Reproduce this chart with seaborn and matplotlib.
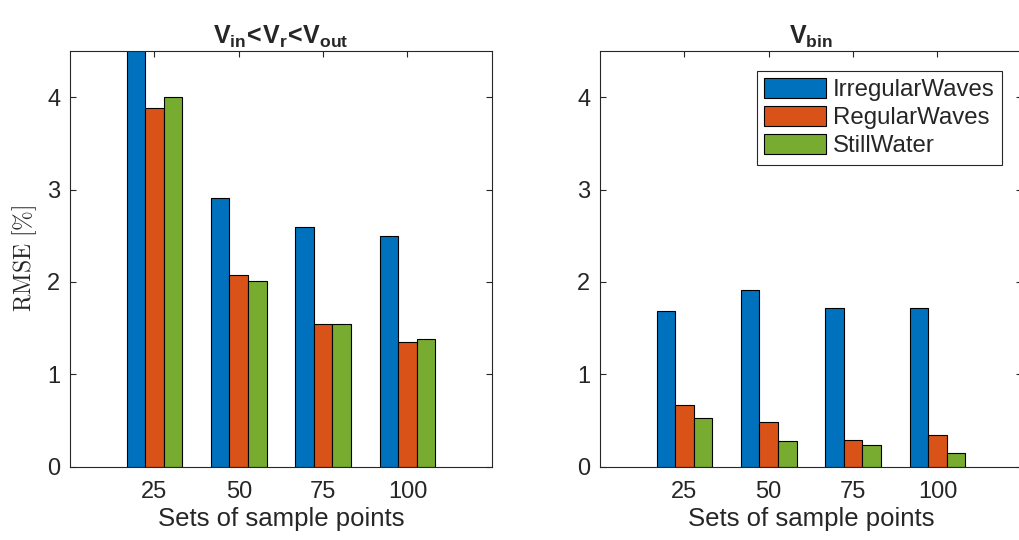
import seaborn as sns
import matplotlib.pyplot as plt
import pandas as pd

sns.set_style('ticks')
plt.rcParams['font.family'] = ['Liberation Sans', 'DejaVu Sans']
plt.rcParams['mathtext.fontset'] = 'custom'
plt.rcParams['mathtext.rm'] = 'Liberation Sans'
plt.rcParams['mathtext.it'] = 'Liberation Sans'
plt.rcParams['mathtext.bf'] = 'Liberation Sans:bold'

points = ['25', '50', '75', '100']
cases = ['IrregularWaves', 'RegularWaves', 'StillWater']

# left panel: Vin < Vr < Vout
left_irregular = [4.75, 2.91, 2.59, 2.50]
left_regular = [3.88, 2.07, 1.55, 1.35]
left_still = [4.00, 2.01, 1.55, 1.38]

# right panel: Vbin
right_irregular = [1.69, 1.91, 1.72, 1.72]
right_regular = [0.67, 0.48, 0.29, 0.34]
right_still = [0.53, 0.28, 0.23, 0.15]

colors = {'IrregularWaves': '#0072BD', 'RegularWaves': '#D95319', 'StillWater': '#77AC30'}
dark = '#262626'


def make_df(irr, reg, still):
    rows = []
    for case, vals in zip(cases, [irr, reg, still]):
        for p, v in zip(points, vals):
            rows.append({'points': p, 'rmse': v, 'case': case})
    return pd.DataFrame(rows)


df_left = make_df(left_irregular, left_regular, left_still)
df_right = make_df(right_irregular, right_regular, right_still)

fig = plt.figure(figsize=(10.19, 5.40), dpi=100)
ax1 = fig.add_axes([0.0687, 0.1357, 0.414, 0.770])
ax2 = fig.add_axes([0.5888, 0.1357, 0.414, 0.770])

for ax, df, show_leg in [(ax1, df_left, False), (ax2, df_right, True)]:
    sns.barplot(data=df, x='points', y='rmse', hue='case', order=points,
                hue_order=cases, palette=colors, width=0.66, saturation=1,
                errorbar=None, edgecolor='black', linewidth=0.8, ax=ax,
                legend=show_leg)
    ax.set_xlim(-1, 4)
    ax.set_ylim(0, 4.5)
    ax.set_yticks([0, 1, 2, 3, 4])
    ax.tick_params(direction='in', length=4, width=0.8, top=True, right=True,
                   labelsize=17, colors=dark, pad=7)
    ax.tick_params(axis='x', pad=10)
    for sp in ax.spines.values():
        sp.set_visible(True)
        sp.set_color(dark)
        sp.set_linewidth(0.8)
    ax.set_xlabel('Sets of sample points', fontsize=18.5, color=dark, labelpad=3)
    ax.set_ylabel('')

ax1.set_ylabel(r'$\mathrm{RMSE}\ [\%]$', fontsize=17, color=dark,
               math_fontfamily='cm', labelpad=6)
ax1.set_title(r'$\mathbf{V_{in}\!<\!V_{r}\!<\!V_{out}}$', fontsize=18, pad=5)
ax2.set_title(r'$\mathbf{V_{bin}}$', fontsize=18, pad=5)

handles, labels = ax2.get_legend_handles_labels()
ax2.legend(handles, labels, loc='upper right',
           bbox_to_anchor=(1001.7 / 1019, 1 - 70.7 / 540),
           bbox_transform=fig.transFigure, borderaxespad=0, fontsize=17.3,
           frameon=True, fancybox=False, framealpha=1, edgecolor=dark,
           handlelength=2.55, handleheight=0.9, labelspacing=0.2,
           handletextpad=0.3, borderpad=0.3, title=None)
ax2.get_legend().get_frame().set_linewidth(0.8)

fig.savefig('out.png', dpi=100)
